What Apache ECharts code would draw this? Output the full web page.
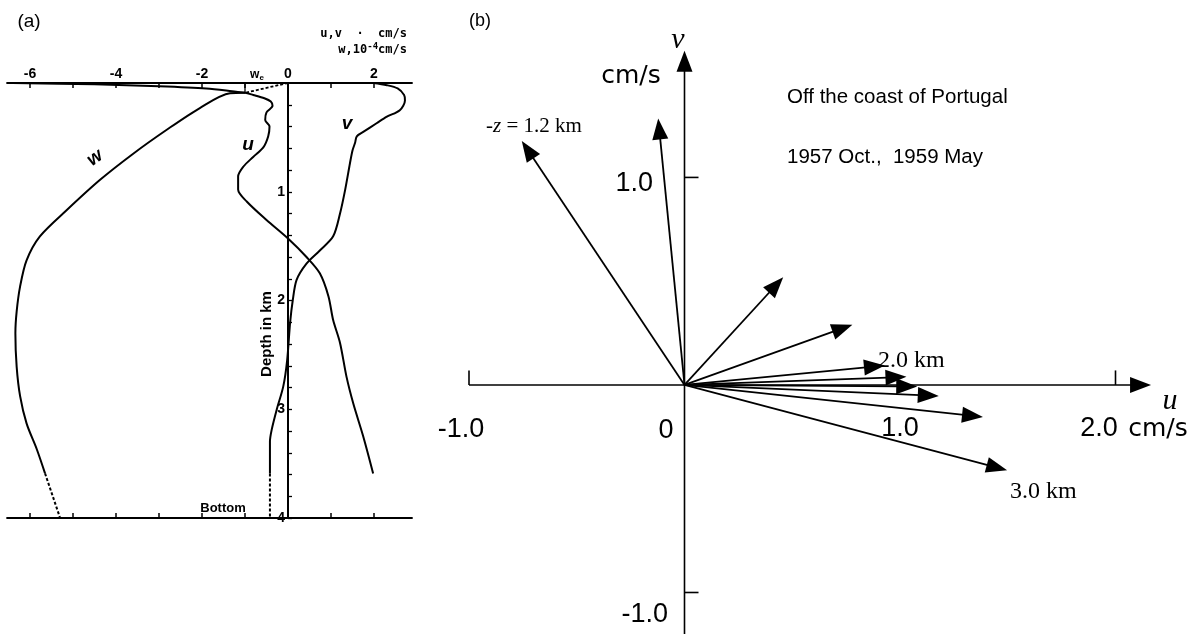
<!DOCTYPE html>
<html><head><meta charset="utf-8">
<script src="https://cdn.jsdelivr.net/npm/echarts@6/dist/echarts.min.js"></script>
<style>html,body{margin:0;padding:0;background:#fff}#c{width:1195px;height:634px}</style>
</head><body><div id="c"></div>
<script>
// ---------- Panel (a): profiles vs depth ----------
const topTicks = [-6,-5,-4,-3,-2,-1,0,1,2];
const topTickLabels = [-6,-4,-2,0,2];
const depthTicks = [0.2,0.4,0.6,0.8,1,1.2,1.4,1.6,1.8,2,2.2,2.4,2.6,2.8,3,3.2,3.4,3.6,3.8,4];
const depthLabels = [1,2,3,4];
// u (cm/s): [u, depth km]
const uProfile = [[-6.4,0],[-4.5,0.012],[-3.0,0.03],[-1.9,0.05],[-1.3,0.075],[-1.0,0.09],[-0.81,0.11],[-0.55,0.14],[-0.4,0.17],[-0.36,0.21],[-0.5,0.27],[-0.53,0.34],[-0.43,0.40],[-0.46,0.49],[-0.57,0.59],[-0.81,0.68],[-1.04,0.77],[-1.16,0.86],[-1.16,0.98],[-0.96,1.09],[-0.5,1.26],[0,1.43],[0.43,1.60],[0.74,1.75],[0.94,1.96],[1.05,2.18],[1.21,2.39],[1.36,2.70],[1.52,2.95],[1.75,3.25],[1.98,3.59]];
// v (cm/s)
const vProfile = [[1.98,0],[2.3,0.02],[2.55,0.05],[2.7,0.11],[2.72,0.16],[2.6,0.25],[2.3,0.31],[2.06,0.37],[1.75,0.45],[1.6,0.49],[1.56,0.55],[1.5,0.62],[1.44,0.74],[1.33,0.98],[1.21,1.2],[1.05,1.41],[0.74,1.54],[0.43,1.66],[0.2,1.81],[0.11,2.0],[0.05,2.2],[-0.02,2.55],[-0.11,2.79],[-0.26,3.0],[-0.38,3.19],[-0.42,3.3],[-0.42,3.59]];
const vBottomDashed = [[-0.42,3.59],[-0.42,4.0]];
// w (10^-4 cm/s)
const wEkmanDashed = [[0,0],[-0.5,0.045],[-1.0,0.09]];
const wProfile = [[-1.0,0.09],[-1.35,0.095],[-2.05,0.23],[-2.82,0.43],[-3.6,0.65],[-4.37,0.89],[-5.15,1.17],[-5.77,1.41],[-6.08,1.63],[-6.23,1.87],[-6.31,2.1],[-6.34,2.3],[-6.31,2.61],[-6.23,2.88],[-6.08,3.13],[-5.84,3.37],[-5.65,3.59]];
const wBottomDashed = [[-5.65,3.59],[-5.3,4.0]];
const wE = [[-1.0,0],[-1.0,0.09]];
const surfaceLine = [[-6.55,0],[2.9,0]];
const bottomLine = [[-6.55,4],[2.9,4]];

// ---------- Panel (b): current vectors (u, v in cm/s) ----------
const uTip = [-0.755,-0.122,0.458,0.779,0.93,1.03,1.08,1.18,1.385,1.497];
const vTip = [1.176,1.284,0.519,0.29,0.094,0.039,-0.007,-0.053,-0.154,-0.411];
const uAxisSeg = [-1.0,0,2.165,0];
const vAxisSeg = [0,-1.2,0,1.61];
const axisTicksB = [[-1,0,-1,0.07],[2,0,2,0.07],[0,1,0.065,1],[0,-1,0.065,-1]];

// geometry
const ax0 = 288, aUnit = 43;
const aMin = -6.6, aMax = 2.9;
const bx0 = 684.5, by0 = 398.5, bUnit = 215.5;
const bxMin = -1.2, bxMax = 2.3, byMin = -1.2, byMax = 1.7;

const chart = echarts.init(document.getElementById('c'));
const F = 'Liberation Sans, Arial, sans-serif';
const S = 'Liberation Serif, Times New Roman, serif';
const lineBase = {type:'line', xAxisIndex:0, yAxisIndex:0, showSymbol:false, symbol:'none', smooth:0.3, lineStyle:{color:'#000', width:2}, z:3};

function arrowRenderer(headLen, headHalf, lw){
  return function(params, api){
    const p0 = api.coord([api.value(0), api.value(1)]);
    const p1 = api.coord([api.value(2), api.value(3)]);
    const dx = p1[0]-p0[0], dy = p1[1]-p0[1];
    const len = Math.hypot(dx,dy); const ux = dx/len, uy = dy/len;
    const bx = p1[0]-ux*headLen, by = p1[1]-uy*headLen;
    return {type:'group', children:[
      {type:'line', shape:{x1:p0[0],y1:p0[1],x2:bx+ux*2,y2:by+uy*2}, style:{stroke:'#000', lineWidth:lw}},
      {type:'polygon', shape:{points:[p1,[bx-uy*headHalf, by+ux*headHalf],[bx+uy*headHalf, by-ux*headHalf]]}, style:{fill:'#000'}}
    ]};
  };
}
function segRenderer(lw){
  return function(params, api){
    const p0 = api.coord([api.value(0), api.value(1)]);
    const p1 = api.coord([api.value(2), api.value(3)]);
    return {type:'line', shape:{x1:p0[0],y1:p0[1],x2:p1[0],y2:p1[1]}, style:{stroke:'#000', lineWidth:lw}};
  };
}
const customBase = {type:'custom', xAxisIndex:2, yAxisIndex:1, coordinateSystem:'cartesian2d',
  dimensions:['x0','y0','x1','y1'], encode:{x:[0,2], y:[1,3]}, silent:true};

function txt(x, y, text, font, align, rotation){
  return {type:'text', x:x, y:y, rotation:rotation||0, style:{text:text, font:font, fill:'#000',
    align:align||'center', verticalAlign:'middle', textAlign:align||'center', textVerticalAlign:'middle'}};
}

const gridALeft = ax0 + aMin*aUnit;
const option = {
  animation:false,
  backgroundColor:'#fff',
  grid:[
    {left: gridALeft, top:83, width:(aMax-aMin)*aUnit, height:435},
    {left: bx0 + bxMin*bUnit, top: by0 - byMax*bUnit, width:(bxMax-bxMin)*bUnit, height:(byMax-byMin)*bUnit}
  ],
  xAxis:[
    {gridIndex:0, type:'value', min:aMin, max:aMax, position:'top',
      axisLine:{show:false, onZero:false},
      axisTick:{show:true, inside:true, length:5, customValues:topTicks, lineStyle:{color:'#000', width:1.5}},
      axisLabel:{customValues:topTickLabels, margin:2, color:'#000', fontSize:14, fontWeight:'bold', fontFamily:F},
      splitLine:{show:false}},
    {gridIndex:0, type:'value', min:aMin, max:aMax, position:'bottom',
      axisLine:{show:false, onZero:false},
      axisTick:{show:true, inside:true, length:5, customValues:topTicks, lineStyle:{color:'#000', width:1.5}},
      axisLabel:{show:false}, splitLine:{show:false}},
    {gridIndex:1, type:'value', min:bxMin, max:bxMax, show:false, splitLine:{show:false}}
  ],
  yAxis:[
    {gridIndex:0, type:'value', min:0, max:4, inverse:true, position:'left', offset:-(ax0 - gridALeft),
      axisLine:{show:true, onZero:false, lineStyle:{color:'#000', width:2}},
      axisTick:{show:true, inside:true, length:4, customValues:depthTicks, lineStyle:{color:'#000', width:1.3}},
      axisLabel:{customValues:depthLabels, margin:3, color:'#000', fontSize:14, fontWeight:'bold', fontFamily:F},
      splitLine:{show:false}},
    {gridIndex:1, type:'value', min:byMin, max:byMax, show:false, splitLine:{show:false}}
  ],
  series:[
    Object.assign({}, lineBase, {name:'surface', data:surfaceLine, smooth:false}),
    Object.assign({}, lineBase, {name:'bottom', data:bottomLine, smooth:false}),
    Object.assign({}, lineBase, {name:'u', data:uProfile}),
    Object.assign({}, lineBase, {name:'v', data:vProfile}),
    Object.assign({}, lineBase, {name:'v bottom', data:vBottomDashed, smooth:false, lineStyle:{color:'#000', width:2, type:[3,2]}}),
    Object.assign({}, lineBase, {name:'w', data:wProfile}),
    Object.assign({}, lineBase, {name:'w ekman', data:wEkmanDashed, smooth:false, lineStyle:{color:'#000', width:1.8, type:[3,2]}}),
    Object.assign({}, lineBase, {name:'w bottom', data:wBottomDashed, smooth:false, lineStyle:{color:'#000', width:2, type:[3,2]}}),
    Object.assign({}, lineBase, {name:'we', data:wE, smooth:false, lineStyle:{color:'#000', width:1.3}}),
    Object.assign({}, customBase, {name:'axes b', data:[uAxisSeg, vAxisSeg], renderItem:arrowRenderer(21, 8, 1.6)}),
    Object.assign({}, customBase, {name:'ticks b', data:axisTicksB, renderItem:segRenderer(1.6)}),
    Object.assign({}, customBase, {name:'vectors', data:uTip.map((u,i)=>[0,0,u,vTip[i]]), renderItem:arrowRenderer(21, 8, 1.8)})
  ],
  graphic:[
    // panel a texts
    txt(29, 22, '(a)', '19px '+F),
    txt(407, 34, 'u,v  ·  cm/s', 'bold 12px DejaVu Sans Mono, monospace', 'right'),
    {type:'text', x:407, y:50, style:{rich:{b:{font:'bold 12px DejaVu Sans Mono, monospace'}, s:{font:'bold 9px DejaVu Sans Mono, monospace', verticalAlign:'top', padding:[0,0,6,0]}}, text:'{b|w,10}{s|-4}{b|cm/s}', align:'right', verticalAlign:'middle', textAlign:'right', textVerticalAlign:'middle', fill:'#000'}},
    {type:'text', x:257, y:75, style:{rich:{b:{font:'bold 12px '+F}, s:{font:'bold 8px '+F, padding:[5,0,0,0]}}, text:'{b|w}{s|e}', align:'center', verticalAlign:'middle', textAlign:'center', textVerticalAlign:'middle', fill:'#000'}},
    txt(95, 158, 'w', 'italic bold 19px '+F, 'center', 0.62),
    txt(248, 145, 'u', 'italic bold 19px '+F),
    txt(347, 124, 'v', 'italic bold 19px '+F),
    txt(267, 334, 'Depth in km', 'bold 15px '+F, 'center', Math.PI/2),
    txt(223, 508, 'Bottom', 'bold 13px '+F),
    // panel b texts
    txt(480, 21, '(b)', '18px '+F),
    txt(678, 40, 'v', 'italic 30px '+S),
    txt(631, 76, 'cm/s', '25px DejaVu Sans, sans-serif'),
    txt(787, 97, 'Off the coast of Portugal', '20.5px '+F, 'left'),
    txt(787, 157, '1957 Oct.,  1959 May', '20.5px '+F, 'left'),
    {type:'text', x:486, y:126, style:{rich:{i:{font:'italic 21px '+S}, r:{font:'21px '+S}}, text:'{r|-}{i|z}{r| = 1.2 km}', align:'left', verticalAlign:'middle', textAlign:'left', textVerticalAlign:'middle', fill:'#000'}},
    txt(878, 361, '2.0 km', '24px '+S, 'left'),
    txt(1010, 492, '3.0 km', '24px '+S, 'left'),
    txt(653, 184, '1.0', '27px '+F, 'right'),
    txt(668, 615, '-1.0', '27px '+F, 'right'),
    txt(461, 430, '-1.0', '27px '+F),
    txt(666, 431, '0', '27px '+F),
    txt(900, 429, '1.0', '27px '+F),
    txt(1099, 429, '2.0', '27px '+F),
    txt(1158, 429, 'cm/s', '25px DejaVu Sans, sans-serif'),
    txt(1170, 401, 'u', 'italic 30px '+S)
  ]
};
chart.setOption(option);
</script></body></html>
